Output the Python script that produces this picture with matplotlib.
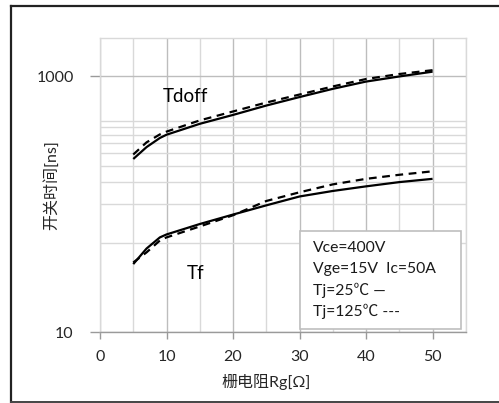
import matplotlib
matplotlib.use("Agg")
import matplotlib.pyplot as plt
from matplotlib.patches import Rectangle
from matplotlib.lines import Line2D

plt.rcParams['font.family'] = ['Lato', 'Noto Sans CJK SC', 'DejaVu Sans']

# Data
rg = [5, 7, 9, 10, 15, 20, 25, 30, 35, 40, 45, 50]
tdoff_25 = [226, 280, 330, 350, 426, 500, 592, 690, 800, 912, 1000, 1090]
tdoff_125 = [245, 305, 352, 370, 453, 532, 625, 722, 835, 955, 1045, 1120]
tf_25 = [34, 45, 55, 58, 70, 83, 98, 115, 127, 138, 149, 158]
tf_125 = [35, 42, 52, 55, 67, 82, 106, 124, 143, 158, 170, 181]

x_major = [0, 10, 20, 30, 40, 50]
x_minor = [5, 15, 25, 35, 45, 55]
y_major = [10, 1000]
y_major_labels = ['10', '1000']
y_minor = [50, 100, 150, 200, 250, 300, 350, 400, 450]

legend_lines = ['Vce=400V', 'Vge=15V  Ic=50A', 'Tj=25\u2103 \u2014', 'Tj=125\u2103 ---']

W, H = 499, 403
fig = plt.figure(figsize=(W / 100, H / 100), dpi=100)

def fx(px):
    return px / W

def fy(py):
    return 1 - py / H

# outer frame (left, top, bottom visible)
fig.add_artist(Line2D([fx(11), fx(11)], [fy(5.5), fy(401.5)], color='#222222', lw=1.6))
fig.add_artist(Line2D([fx(11), fx(505)], [fy(5.5), fy(5.5)], color='#222222', lw=1.6))
fig.add_artist(Line2D([fx(11), fx(505)], [fy(401.5), fy(401.5)], color='#444444', lw=1.4))

ax = fig.add_axes([fx(100), fy(332), fx(465.8) - fx(100), fy(38) - fy(332)])
ax.set_yscale('log')
ax.set_xlim(0, 55)
ax.set_ylim(10, 2000)

ax.set_xticks(x_major)
ax.set_xticklabels([str(v) for v in x_major], fontsize=11.5, color='#262626')
ax.set_xticks(x_minor, minor=True)
ax.set_yticks(y_major)
ax.set_yticklabels(y_major_labels, fontsize=11.5, color='#262626')
ax.set_yticks(y_minor, minor=True)
ax.set_yticklabels([], minor=True)

ax.tick_params(axis='x', which='major', length=5, width=1, color='#9a9a9a', pad=8)
ax.tick_params(axis='x', which='minor', length=0)
ax.tick_params(axis='y', which='major', length=7, width=1, color='#9a9a9a', pad=12)
ax.tick_params(axis='y', which='minor', length=0)

ax.grid(True, which='major', axis='x', color='#bdbdbd', lw=1.0)
ax.grid(True, which='minor', axis='x', color='#d9d9d9', lw=1.0)
ax.grid(True, which='major', axis='y', color='#bdbdbd', lw=1.0)
ax.grid(True, which='minor', axis='y', color='#d9d9d9', lw=1.0)
ax.set_axisbelow(True)

for s in ['top', 'right', 'left']:
    ax.spines[s].set_color('#d9d9d9')
    ax.spines[s].set_linewidth(1.0)
ax.spines['bottom'].set_color('#9a9a9a')
ax.spines['bottom'].set_linewidth(1.0)

ax.plot(rg, tdoff_25, color='black', lw=1.6, solid_capstyle='butt')
ax.plot(rg, tdoff_125, color='black', lw=1.6, ls=(0, (3.5, 2.5)))
ax.plot(rg, tf_25, color='black', lw=1.6, solid_capstyle='butt')
ax.plot(rg, tf_125, color='black', lw=1.6, ls=(0, (3.5, 2.5)))

ax.text(12.9, 700, 'Tdoff', fontsize=13.5, color='black', ha='center', va='center')
ax.text(14.3, 28.5, 'Tf', fontsize=13.5, color='black', ha='center', va='center')

ax.set_xlabel('栅电阻Rg[Ω]', fontsize=11.5, color='#262626', labelpad=3,
              family=['Lato', 'Noto Sans CJK SC'])
ax.xaxis.set_label_coords((266 - 100) / (465.8 - 100), -(381.5 - 332) / (332 - 38))
ax.set_ylabel('开关时间[ns]', fontsize=11.5, color='#262626',
              family=['Lato', 'Noto Sans CJK SC'])
ax.yaxis.set_label_coords(-(100 - 51) / (465.8 - 100), 0.5)
ax.xaxis.label.set_va('center')
ax.yaxis.label.set_va('center')

# annotation box
box = Rectangle((fx(300), fy(329)), fx(461) - fx(300), fy(231) - fy(329),
                transform=fig.transFigure, facecolor='white', edgecolor='#bfbfbf', lw=1.2,
                zorder=5)
fig.add_artist(box)
for i, t in enumerate(legend_lines):
    fig.text(fx(313), fy(248 + i * 21), t, fontsize=11.3, color='#1a1a1a',
             ha='left', va='center', zorder=6,
             family=['Lato', 'Noto Sans CJK SC', 'DejaVu Sans'])

fig.savefig('out.png', dpi=100)
